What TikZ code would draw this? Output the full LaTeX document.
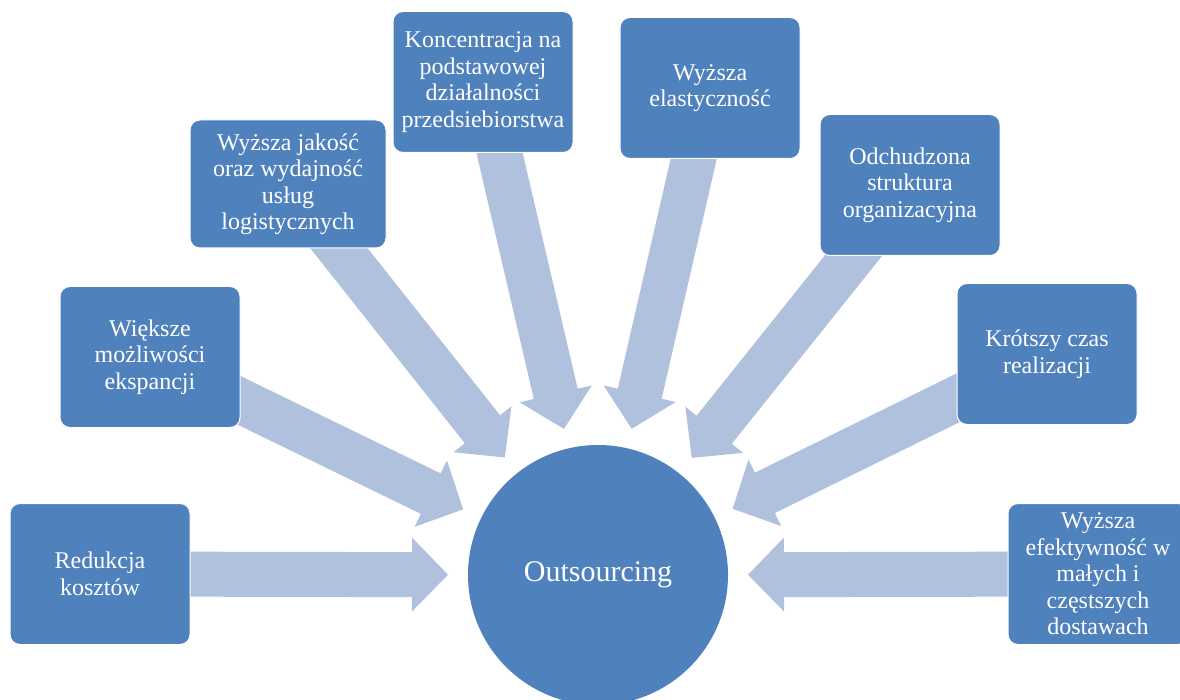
\documentclass[tikz,border=0pt]{standalone}
\usepackage{fontspec}
\setmainfont{Liberation Serif}
\usetikzlibrary{calc,backgrounds}
\definecolor{boxblue}{RGB}{79,129,189}
\definecolor{arrblue}{RGB}{176,193,221}

\begin{document}
\begin{tikzpicture}[x=1pt,y=-1pt]
        \tikzset{
        box/.style={rectangle, rounded corners=10pt, fill=boxblue, draw=white,
        line width=1pt, text=white, minimum width=180pt, minimum height=141pt,
        align=center, font=\fontsize{24}{26.5}\selectfont},
        core/.style={circle, fill=boxblue, text=white, minimum size=260pt,
        font=\fontsize{30}{36}\selectfont},
        arr/.style={fill=arrblue},
        }
        \useasboundingbox (0,0) rectangle (1180,700);
        \node[core] (hub) at (598,575) {Outsourcing};
        \node[box] (b1) at (100,574) {Redukcja\\kosztów};
        \node[box] (b2) at (150,357) {Większe\\możliwości\\ekspancji};
        \node[box, minimum width=196pt, minimum height=128pt] (b3) at (288,184) {Wyższa jakość\\oraz wydajność\\usług\\logistycznych};
        \node[box] (b4) at (483,82) {Koncentracja na\\podstawowej\\działalności\\przedsiebiorstwa};
        \node[box] (b5) at (710,88) {Wyższa\\elastyczność};
        \node[box] (b6) at (910,185) {Odchudzona\\struktura\\organizacyjna};
        \node[box] (b7) at (1047,354) {Krótszy czas\\realizacji};
        \node[box] (b8) at (1098,574) {Wyższa\\efektywność w\\małych i\\częstszych\\dostawach};

        \begin{scope}[on background layer]
        \foreach \b in {b1,b2,b3,b4,b5,b6,b7,b8} {
                \coordinate (\b-tip) at ($(hub)!150pt!(\b)$);
                \coordinate (\b-head) at ($(\b-tip)!36pt!(\b)$);
                \fill[arr] ($(\b)!22.5pt!90:(hub)$) -- ($(\b-head)!22.5pt!-90:(\b)$)
                        -- ($(\b-head)!37pt!-90:(\b)$) -- (\b-tip)
                        -- ($(\b-head)!37pt!90:(\b)$) -- ($(\b-head)!22.5pt!90:(\b)$)
                        -- ($(\b)!22.5pt!-90:(hub)$) -- cycle;
        }
        \end{scope}
\end{tikzpicture}
\end{document}
